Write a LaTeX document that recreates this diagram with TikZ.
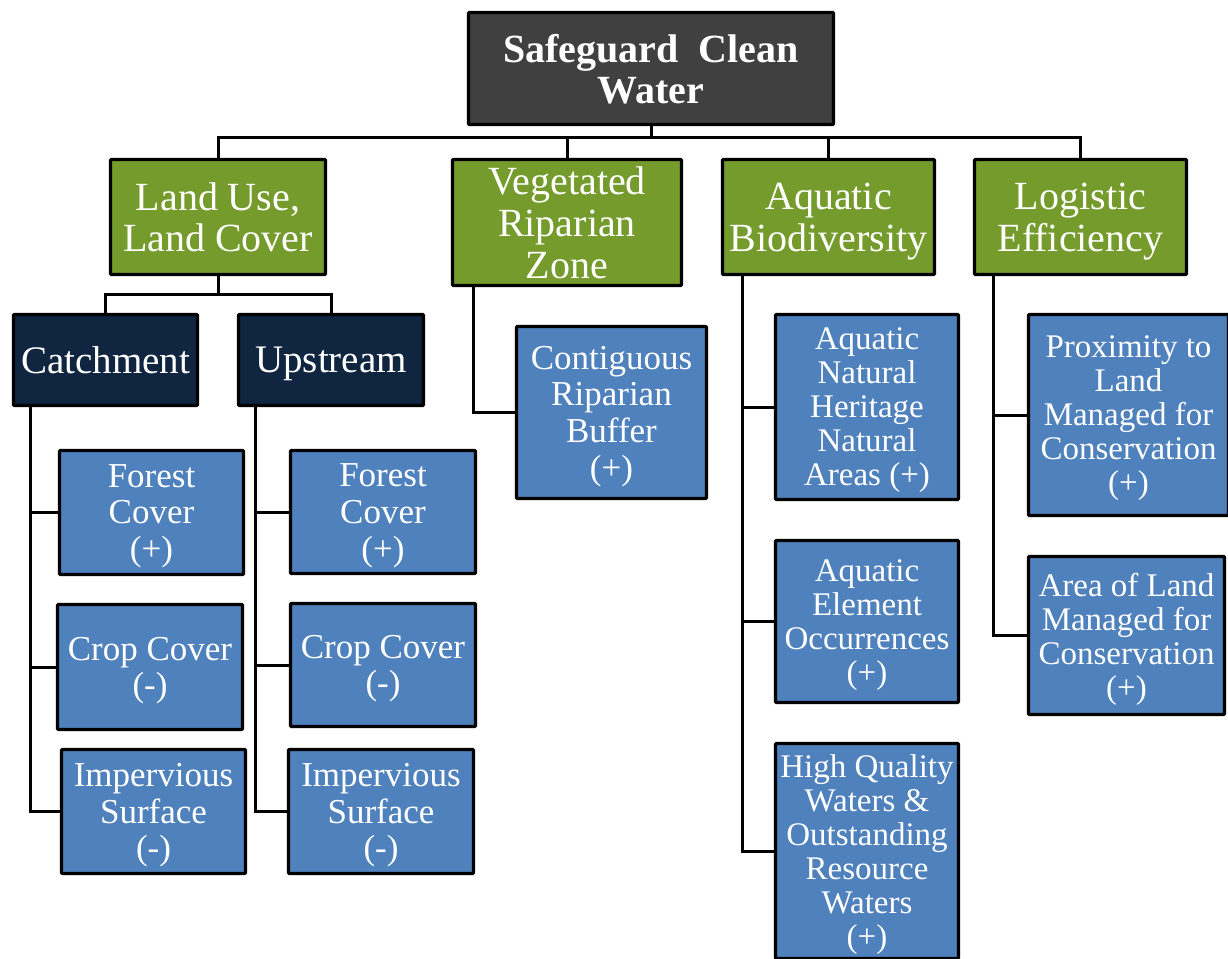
\documentclass[tikz,border=0pt]{standalone}
\usepackage{fontspec}
\setmainfont{Liberation Serif}
\definecolor{titlegray}{RGB}{64,64,64}
\definecolor{leafgreen}{RGB}{116,155,43}
\definecolor{navyblue}{RGB}{16,37,63}
\definecolor{midblue}{RGB}{79,129,189}
\begin{document}
\begin{tikzpicture}[x=1pt,y=-1pt,
  box/.style={draw=black,line width=3.4pt,inner sep=0pt,align=center,text=white,rounded corners=1pt,text depth=0pt},
  ttl/.style={box,fill=titlegray,font=\bfseries\fontsize{40}{41}\selectfont},
  lvl/.style={box,fill=leafgreen,font=\fontsize{40}{41.7}\selectfont},
  subbox/.style={box,fill=navyblue,font=\fontsize{39}{41}\selectfont},
  leaf/.style={box,fill=midblue,font=\fontsize{35}{36.7}\selectfont},
  leafsm/.style={box,fill=midblue,font=\fontsize{33}{34}\selectfont},
  conn/.style={draw=black,line width=3pt}]
\useasboundingbox (0,0) rectangle (1228,958);

% title
\node[ttl,minimum width=365pt,minimum height=112pt] (title) at (651,68.5) {Safeguard~~Clean\\Water};

% level 1
\node[lvl,minimum width=215pt,minimum height=115pt] (land) at (218,217) {Land Use,\\Land Cover};
\node[lvl,minimum width=229pt,minimum height=126pt] (veg) at (567,222.5) {Vegetated\\Riparian\\Zone};
\node[lvl,minimum width=212pt,minimum height=115pt] (aqua) at (828.5,217) {Aquatic\\Biodiversity};
\node[lvl,minimum width=212pt,minimum height=115pt] (logi) at (1080.5,217) {Logistic\\Efficiency};

% level 2 (navy)
\node[subbox,minimum width=184pt,minimum height=91pt] (catch) at (105.5,360) {Catchment};
\node[subbox,minimum width=185pt,minimum height=91pt] (up) at (331,360) {Upstream};

% leaves under catchment
\node[leaf,minimum width=184pt,minimum height=124pt] (f1) at (151.5,512.5) {Forest\\Cover\\(+)};
\node[leaf,minimum width=185pt,minimum height=125pt] (c1) at (150,667) {Crop Cover\\(-)};
\node[leaf,minimum width=184pt,minimum height=124pt] (i1) at (153.5,811.5) {Impervious\\Surface\\(-)};

% leaves under upstream
\node[leaf,minimum width=185pt,minimum height=123pt] (f2) at (383,512) {Forest\\Cover\\(+)};
\node[leaf,minimum width=185pt,minimum height=123pt] (c2) at (383,665) {Crop Cover\\(-)};
\node[leaf,minimum width=185pt,minimum height=124pt] (i2) at (381,811.5) {Impervious\\Surface\\(-)};

% riparian
\node[leaf,minimum width=190pt,minimum height=172pt] (cont) at (611.5,412.5) {Contiguous\\Riparian\\Buffer\\(+)};

% aquatic biodiversity
\node[leafsm,minimum width=183pt,minimum height=185pt] (anh) at (867,407) {Aquatic\\Natural\\Heritage\\Natural\\Areas (+)};
\node[leafsm,minimum width=183pt,minimum height=162pt] (ae) at (867,621.5) {Aquatic\\Element\\Occurrences\\(+)};
\node[leafsm,minimum width=183pt,minimum height=215pt] (hq) at (867,851) {High Quality\\Waters \&\\Outstanding\\Resource\\Waters\\(+)};

% logistic efficiency
\node[leafsm,minimum width=200pt,minimum height=201pt] (prox) at (1128.5,415) {Proximity to\\Land\\Managed for\\Conservation\\(+)};
\node[leafsm,minimum width=196pt,minimum height=158pt] (area) at (1126.5,635.5) {Area of Land\\Managed for\\Conservation\\(+)};

% connectors
\coordinate (bus) at (0,137);
\coordinate (bustwo) at (0,294);
\draw[conn] (title.south) |- (land.north |- bus) -- (land.north);
\draw[conn] (title.south) |- (logi.north |- bus) -- (logi.north);
\draw[conn] (veg.north |- bus) -- (veg.north);
\draw[conn] (aqua.north |- bus) -- (aqua.north);

\draw[conn] (land.south) |- (catch.north |- bustwo) -- (catch.north);
\draw[conn] (land.south) |- (up.north |- bustwo) -- (up.north);

\draw[conn] ([xshift=19pt]catch.south west) |- (f1.west);
\draw[conn] ([xshift=19pt]catch.south west) |- (c1.west);
\draw[conn] ([xshift=19pt]catch.south west) |- (i1.west);

\draw[conn] ([xshift=19pt]up.south west) |- (f2.west);
\draw[conn] ([xshift=19pt]up.south west) |- (c2.west);
\draw[conn] ([xshift=19pt]up.south west) |- (i2.west);

\draw[conn] ([xshift=23pt]veg.south west) |- (cont.west);

\draw[conn] ([xshift=22pt]aqua.south west) |- (anh.west);
\draw[conn] ([xshift=22pt]aqua.south west) |- (ae.west);
\draw[conn] ([xshift=22pt]aqua.south west) |- (hq.west);

\draw[conn] ([xshift=21pt]logi.south west) |- (prox.west);
\draw[conn] ([xshift=21pt]logi.south west) |- (area.west);
\end{tikzpicture}
\end{document}
